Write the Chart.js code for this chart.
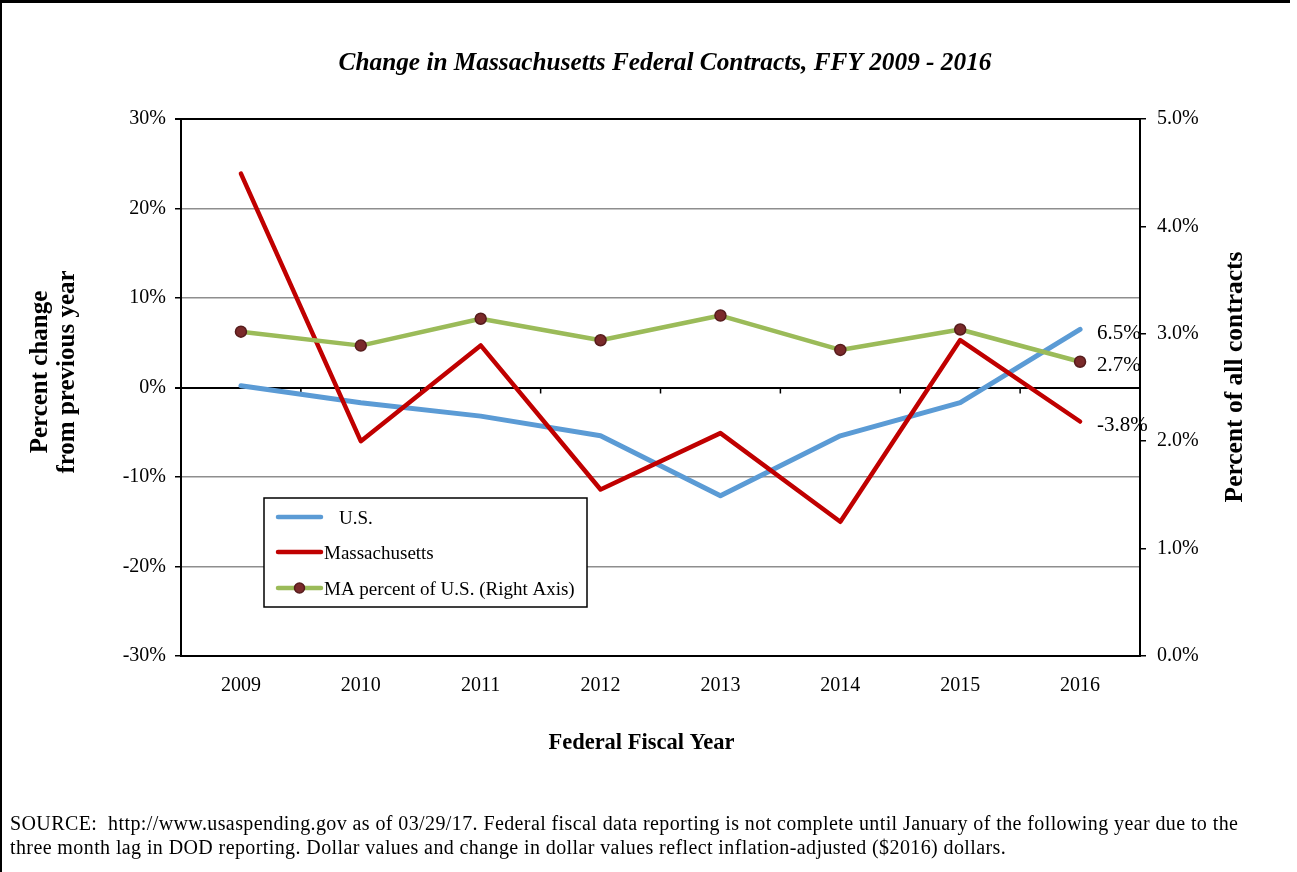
<!DOCTYPE html>
<html>
<head>
<meta charset="utf-8">
<title>Change in Massachusetts Federal Contracts, FFY 2009 - 2016</title>
<script src="https://cdn.jsdelivr.net/npm/chart.js@4/dist/chart.umd.min.js"></script>
<style>
  html, body { margin: 0; padding: 0; background: #ffffff; }
  #wrap { width: 1297px; height: 872px; position: relative; }
</style>
</head>
<body>
<div id="wrap"><canvas id="chart" width="1297" height="872"></canvas></div>
<script>
// Federal fiscal years
const years = ['2009', '2010', '2011', '2012', '2013', '2014', '2015', '2016'];
// Percent change from previous year (left axis)
const usChange = [0.2, -1.7, -3.2, -5.4, -12.1, -5.4, -1.7, 6.5];
const maChange = [23.9, -6.0, 4.7, -11.4, -5.1, -15.0, 5.3, -3.8];
// MA share of all U.S. federal contracts, percent (right axis)
const maShare = [3.02, 2.89, 3.14, 2.94, 3.17, 2.85, 3.04, 2.74];

const seriesNames = ['U.S.', 'Massachusetts', 'MA percent of U.S. (Right Axis)'];
const titleText = 'Change in Massachusetts Federal Contracts, FFY 2009 - 2016';
const leftTitle = ['Percent change', 'from previous year'];
const rightTitle = 'Percent of all contracts';
const xTitle = 'Federal Fiscal Year';
const sourceLines = [
  'SOURCE:  http://www.usaspending.gov as of 03/29/17. Federal fiscal data reporting is not complete until January of the following year due to the',
  'three month lag in DOD reporting. Dollar values and change in dollar values reflect inflation-adjusted ($2016) dollars.'
];

const SERIF = '"Liberation Serif", "Times New Roman", "DejaVu Serif", serif';
const BLUE = '#5B9BD5';
const RED = '#C00000';
const GREEN = '#9BBB59';
const MARKER = '#7A2A2A';
const MARKER_EDGE = '#561C1C';
const GRID = '#8E8E8E';

const decorations = {
  id: 'decorations',
  beforeDraw(chart) {
    const ctx = chart.ctx;
    ctx.save();
    ctx.fillStyle = '#ffffff';
    ctx.fillRect(0, 0, chart.width, chart.height);
    ctx.restore();
  },
  beforeDatasetsDraw(chart) {
    // small category tick marks hanging from the zero line
    const ctx = chart.ctx;
    const x = chart.scales.x;
    const y0 = chart.scales.y.getPixelForValue(0);
    ctx.save();
    ctx.strokeStyle = '#000';
    ctx.lineWidth = 1.5;
    for (let i = 1; i < years.length; i++) {
      const px = (x.getPixelForTick(i - 1) + x.getPixelForTick(i)) / 2;
      ctx.beginPath();
      ctx.moveTo(px, y0);
      ctx.lineTo(px, y0 + 6);
      ctx.stroke();
    }
    ctx.restore();
  },
  afterDatasetsDraw(chart) {
    const ctx = chart.ctx;
    ctx.save();
    // end-of-series value labels
    ctx.font = '21px ' + SERIF;
    ctx.fillStyle = '#000';
    ctx.textAlign = 'left';
    ctx.textBaseline = 'middle';
    chart.data.datasets.forEach((ds, i) => {
      const meta = chart.getDatasetMeta(i);
      const last = meta.data[meta.data.length - 1];
      const v = ds.data[ds.data.length - 1];
      ctx.fillText(v.toFixed(1) + '%', last.x + 17, last.y + 4);
    });

    // legend box
    const lx = 264, ly = 498, lw = 323, lh = 109;
    ctx.fillStyle = '#ffffff';
    ctx.fillRect(lx, ly, lw, lh);
    ctx.strokeStyle = '#000';
    ctx.lineWidth = 1.5;
    ctx.strokeRect(lx, ly, lw, lh);

    const rows = [
      { y: 517, color: BLUE, text: seriesNames[0], tx: 339, marker: false },
      { y: 552, color: RED, text: seriesNames[1], tx: 324, marker: false },
      { y: 588, color: GREEN, text: seriesNames[2], tx: 324, marker: true }
    ];
    ctx.lineCap = 'round';
    rows.forEach(r => {
      ctx.strokeStyle = r.color;
      ctx.lineWidth = 4.5;
      ctx.beginPath();
      ctx.moveTo(278, r.y);
      ctx.lineTo(321, r.y);
      ctx.stroke();
      if (r.marker) {
        ctx.beginPath();
        ctx.arc(299.5, r.y, 5, 0, Math.PI * 2);
        ctx.fillStyle = MARKER;
        ctx.fill();
        ctx.lineWidth = 1.5;
        ctx.strokeStyle = MARKER_EDGE;
        ctx.stroke();
      }
      ctx.fillStyle = '#000';
      ctx.font = '19px ' + SERIF;
      ctx.textAlign = 'left';
      ctx.textBaseline = 'middle';
      ctx.fillText(r.text, r.tx, r.y + 2);
    });
    ctx.restore();
  },
  afterDraw(chart) {
    const ctx = chart.ctx;
    const area = chart.chartArea;
    ctx.save();
    ctx.fillStyle = '#000';

    // title
    ctx.font = 'italic bold 25.3px ' + SERIF;
    ctx.textAlign = 'center';
    ctx.textBaseline = 'middle';
    ctx.fillText(titleText, 665, 63);

    // x axis title
    ctx.font = 'bold 22.5px ' + SERIF;
    ctx.fillText(xTitle, (area.left + area.right) / 2 - 19, 743);

    // left axis title (two lines, rotated)
    ctx.save();
    ctx.translate(54, 372);
    ctx.rotate(-Math.PI / 2);
    ctx.font = 'bold 25px ' + SERIF;
    ctx.fillText(leftTitle[0], 0, -13);
    ctx.fillText(leftTitle[1], 0, 14);
    ctx.restore();

    // right axis title
    ctx.save();
    ctx.translate(1235, 377);
    ctx.rotate(-Math.PI / 2);
    ctx.font = 'bold 25.5px ' + SERIF;
    ctx.fillText(rightTitle, 0, 0);
    ctx.restore();

    // source note
    ctx.font = '20px ' + SERIF;
    ctx.textAlign = 'left';
    ctx.letterSpacing = '0.4px';
    ctx.fillText(sourceLines[0], 10, 825);
    ctx.fillText(sourceLines[1], 10, 849);
    ctx.letterSpacing = '0px';

    // frame edges
    ctx.fillRect(0, 0, 1290, 3);
    ctx.fillRect(0, 0, 2, chart.height);
    ctx.restore();
  }
};

new Chart(document.getElementById('chart'), {
  type: 'line',
  data: {
    labels: years,
    datasets: [
      {
        label: seriesNames[0],
        data: usChange,
        yAxisID: 'y',
        borderColor: BLUE,
        backgroundColor: BLUE,
        borderWidth: 5,
        borderCapStyle: 'round',
        borderJoinStyle: 'round',
        pointRadius: 0,
        order: 3
      },
      {
        label: seriesNames[1],
        data: maChange,
        yAxisID: 'y',
        borderColor: RED,
        backgroundColor: RED,
        borderWidth: 4.5,
        borderCapStyle: 'round',
        borderJoinStyle: 'round',
        pointRadius: 0,
        order: 2
      },
      {
        label: seriesNames[2],
        data: maShare,
        yAxisID: 'y1',
        borderColor: GREEN,
        backgroundColor: MARKER,
        borderWidth: 4.5,
        borderCapStyle: 'round',
        borderJoinStyle: 'round',
        pointRadius: 5.5,
        pointBackgroundColor: MARKER,
        pointBorderColor: MARKER_EDGE,
        pointBorderWidth: 1.5,
        order: 1
      }
    ]
  },
  options: {
    responsive: false,
    animation: false,
    devicePixelRatio: 1,
    layout: { padding: { top: 119, left: 0, right: 0, bottom: 0 } },
    plugins: {
      legend: { display: false },
      title: { display: false },
      tooltip: { enabled: false }
    },
    scales: {
      x: {
        type: 'category',
        offset: true,
        grid: { display: false, drawTicks: false, offset: true },
        border: { display: true, color: '#000', width: 2 },
        ticks: {
          color: '#000',
          font: { family: SERIF, size: 20 },
          padding: 18,
          maxRotation: 0,
          autoSkip: false
        },
        afterFit(scale) { scale.height = 216; }
      },
      y: {
        position: 'left',
        min: -30,
        max: 30,
        grid: {
          color: c => (c.tick && (c.tick.value === 0 || c.tick.value === 30)) ? '#000' : GRID,
          lineWidth: c => (c.tick && (c.tick.value === 0 || c.tick.value === 30)) ? 2 : 1.5,
          tickColor: '#000',
          tickLength: 6,
          drawTicks: true
        },
        border: { display: true, color: '#000', width: 2 },
        ticks: {
          stepSize: 10,
          color: '#000',
          padding: 9,
          font: { family: SERIF, size: 20 },
          callback: v => v + '%'
        },
        afterFit(scale) { scale.width = 181; }
      },
      y1: {
        position: 'right',
        min: 0,
        max: 5,
        grid: {
          drawOnChartArea: false,
          tickColor: '#000',
          tickLength: 6,
          lineWidth: 1.5
        },
        border: { display: true, color: '#000', width: 2 },
        ticks: {
          stepSize: 1,
          color: '#000',
          padding: 11,
          font: { family: SERIF, size: 20 },
          callback: v => v.toFixed(1) + '%'
        },
        afterFit(scale) { scale.width = 157; }
      }
    }
  },
  plugins: [decorations]
});
</script>
</body>
</html>
